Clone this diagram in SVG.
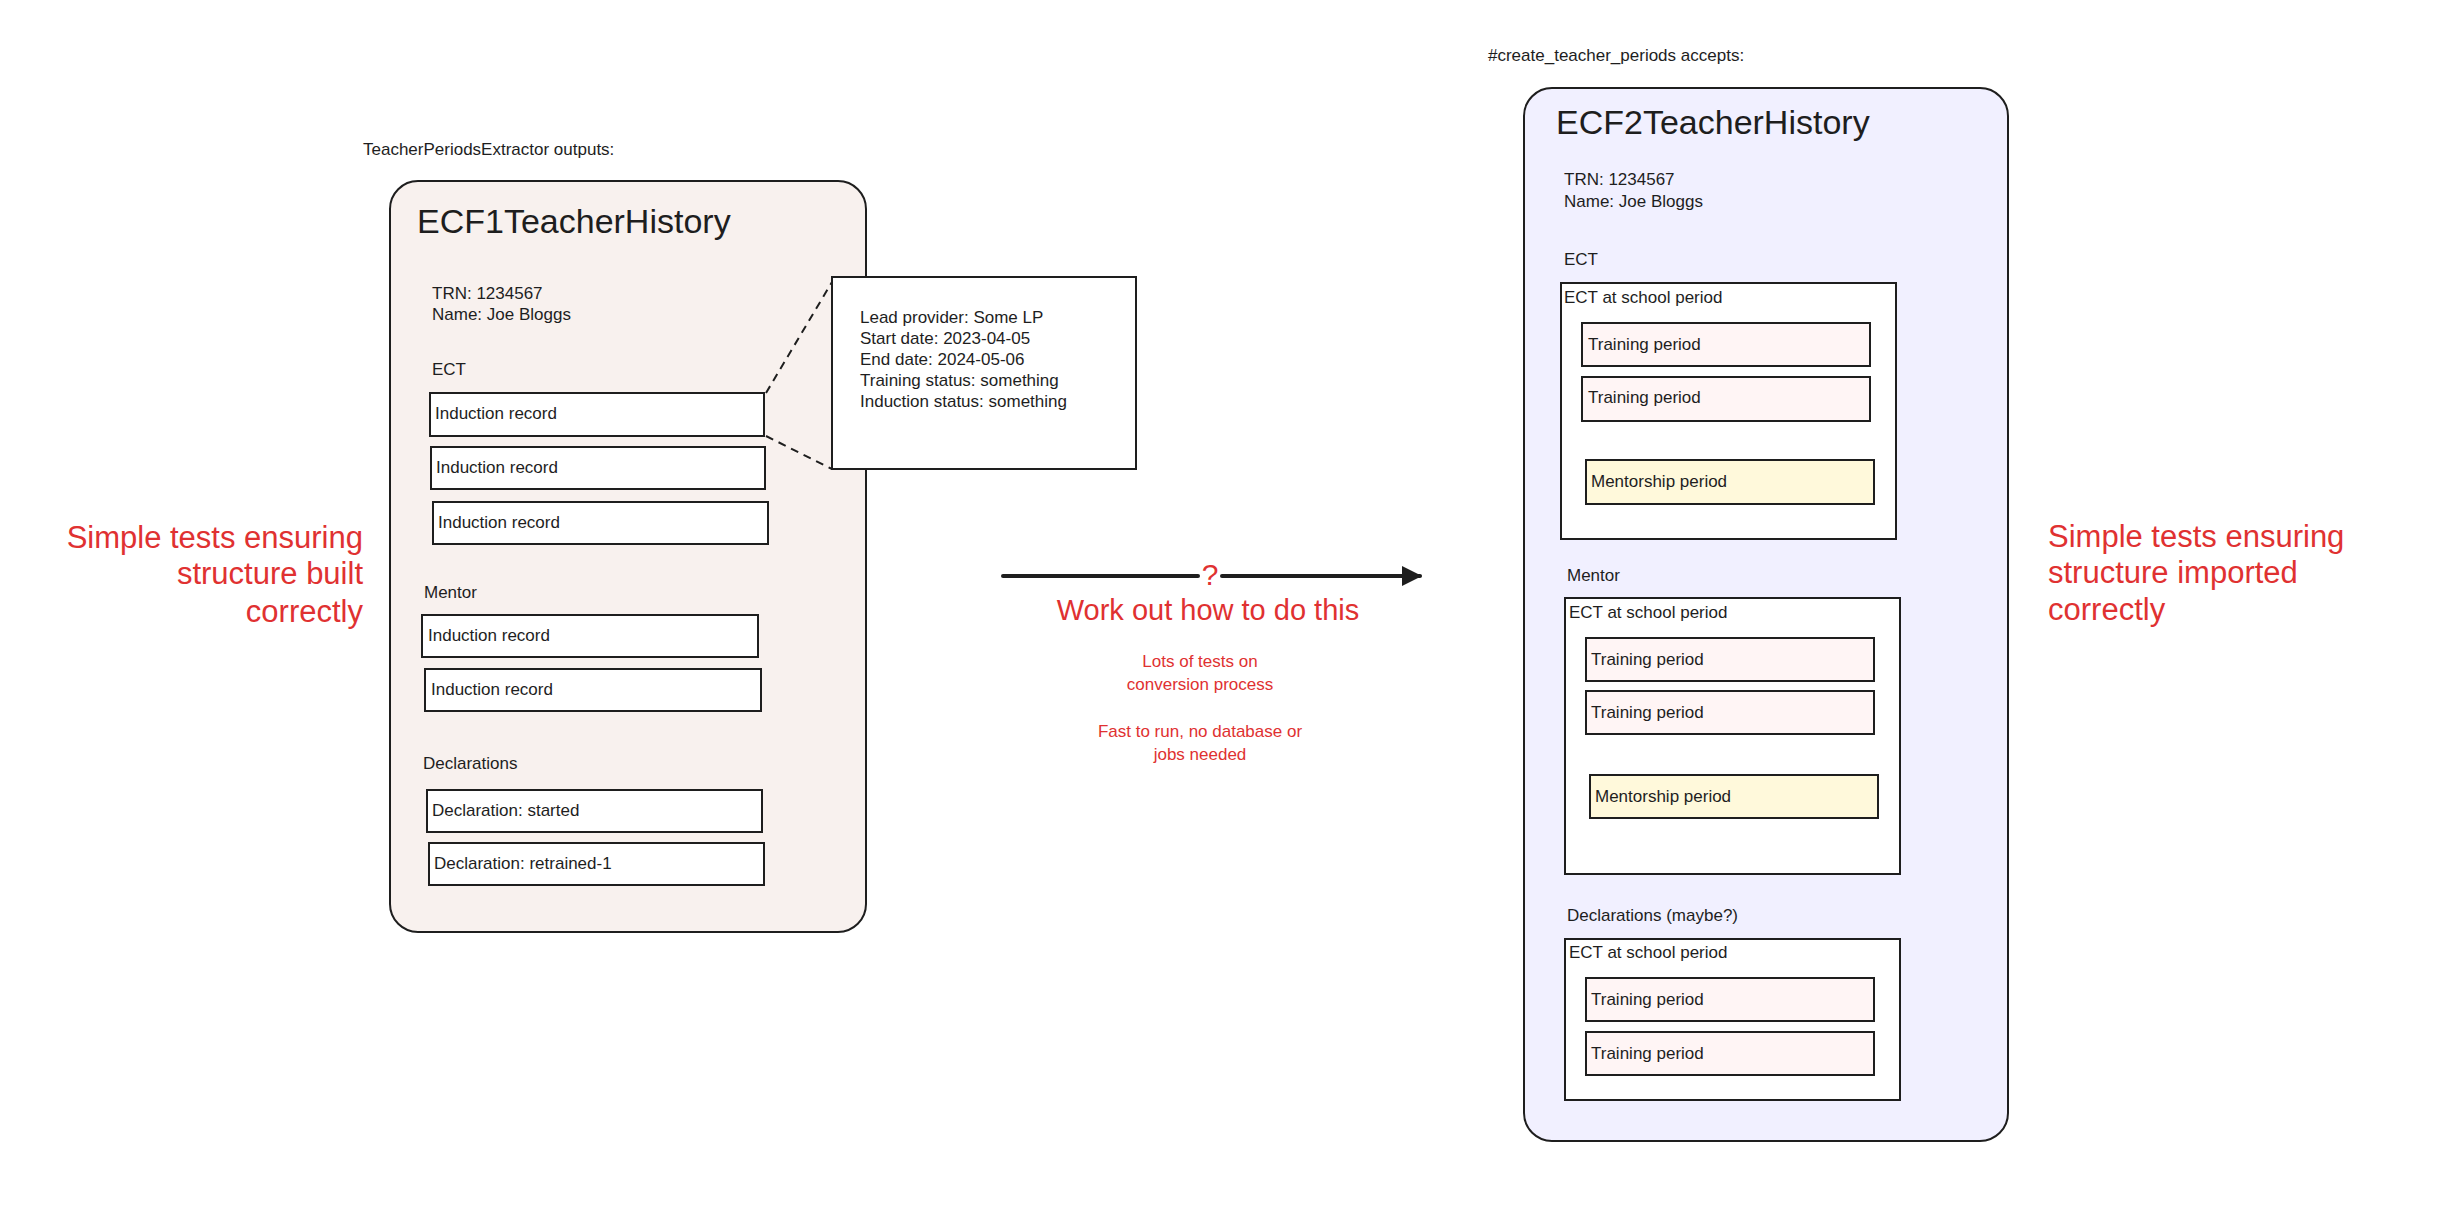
<svg xmlns="http://www.w3.org/2000/svg" width="2439" height="1209" viewBox="0 0 2439 1209">
<defs>
<style>
text{font-family:"Liberation Sans",Arial,sans-serif;fill:#1e1e1e}
.s{font-size:17px}
.t{font-size:34px}
.r{fill:#e03131}
.box{fill:#fff;stroke:#1e1e1e;stroke-width:2}
.tp{fill:#fff5f5;stroke:#1e1e1e;stroke-width:2}
.mp{fill:#fff9db;stroke:#1e1e1e;stroke-width:2}
.big{stroke:#1e1e1e;stroke-width:2}
</style>
<marker id="ah" viewBox="0 0 10 10" refX="9" refY="5" markerWidth="5" markerHeight="5" orient="auto"><path d="M0,0 L10,5 L0,10 z" fill="#1e1e1e"/></marker>
</defs>
<rect width="2439" height="1209" fill="#fff"/>

<g id="ecf1">
<text class="s" x="363" y="155">TeacherPeriodsExtractor outputs:</text>
<rect class="big" x="390" y="181" width="476" height="751" rx="28" fill="#f8f1ee"/>
<text class="t" x="417" y="233">ECF1TeacherHistory</text>
<text class="s" x="432" y="299">TRN: 1234567</text>
<text class="s" x="432" y="320">Name: Joe Bloggs</text>
<text class="s" x="432" y="375">ECT</text>
<g id="ir1"><rect class="box" x="430" y="393" width="334" height="43"/><text class="s" x="435" y="419">Induction record</text></g>
<g id="ir2"><rect class="box" x="431" y="447" width="334" height="42"/><text class="s" x="436" y="473">Induction record</text></g>
<g id="ir3"><rect class="box" x="433" y="502" width="335" height="42"/><text class="s" x="438" y="528">Induction record</text></g>
<text class="s" x="424" y="598">Mentor</text>
<g id="ir4"><rect class="box" x="422" y="615" width="336" height="42"/><text class="s" x="428" y="641">Induction record</text></g>
<g id="ir5"><rect class="box" x="425" y="669" width="336" height="42"/><text class="s" x="431" y="695">Induction record</text></g>
<text class="s" x="423" y="769">Declarations</text>
<g id="d1"><rect class="box" x="427" y="790" width="335" height="42"/><text class="s" x="432" y="816">Declaration: started</text></g>
<g id="d2"><rect class="box" x="429" y="843" width="335" height="42"/><text class="s" x="434" y="869">Declaration: retrained-1</text></g>
</g>

<g id="popup">
<rect class="box" x="832" y="277" width="304" height="192"/>
<text class="s" x="860" y="323">Lead provider: Some LP</text>
<text class="s" x="860" y="344">Start date: 2023-04-05</text>
<text class="s" x="860" y="365">End date: 2024-05-06</text>
<text class="s" x="860" y="386">Training status: something</text>
<text class="s" x="860" y="407">Induction status: something</text>
</g>

<g id="ecf2">
<text class="s" x="1488" y="61">#create_teacher_periods accepts:</text>
<rect class="big" x="1524" y="88" width="484" height="1053" rx="28" fill="#f1f0ff"/>
<text class="t" x="1556" y="134">ECF2TeacherHistory</text>
<text class="s" x="1564" y="185">TRN: 1234567</text>
<text class="s" x="1564" y="207">Name: Joe Bloggs</text>
<text class="s" x="1564" y="265">ECT</text>
<g id="ects1"><rect class="box" x="1561" y="283" width="335" height="256"/><text class="s" x="1564" y="303">ECT at school period</text>
<rect class="tp" x="1582" y="323" width="288" height="43"/><text class="s" x="1588" y="350">Training period</text>
<rect class="tp" x="1582" y="377" width="288" height="44"/><text class="s" x="1588" y="403">Training period</text>
<rect class="mp" x="1586" y="460" width="288" height="44"/><text class="s" x="1591" y="487">Mentorship period</text></g>
<text class="s" x="1567" y="581">Mentor</text>
<g id="ects2"><rect class="box" x="1565" y="598" width="335" height="276"/><text class="s" x="1569" y="618">ECT at school period</text>
<rect class="tp" x="1586" y="638" width="288" height="43"/><text class="s" x="1591" y="665">Training period</text>
<rect class="tp" x="1586" y="691" width="288" height="43"/><text class="s" x="1591" y="718">Training period</text>
<rect class="mp" x="1590" y="775" width="288" height="43"/><text class="s" x="1595" y="802">Mentorship period</text></g>
<text class="s" x="1567" y="921">Declarations (maybe?)</text>
<g id="ects3"><rect class="box" x="1565" y="939" width="335" height="161"/><text class="s" x="1569" y="958">ECT at school period</text>
<rect class="tp" x="1586" y="978" width="288" height="43"/><text class="s" x="1591" y="1005">Training period</text>
<rect class="tp" x="1586" y="1032" width="288" height="43"/><text class="s" x="1591" y="1059">Training period</text></g>
</g>

<g id="notes">
<text class="r" font-size="31" text-anchor="end" x="363" y="548">Simple tests ensuring</text>
<text class="r" font-size="31" text-anchor="end" x="363" y="584">structure built</text>
<text class="r" font-size="31" text-anchor="end" x="363" y="622">correctly</text>
<text class="r" font-size="31" x="2048" y="547">Simple tests ensuring</text>
<text class="r" font-size="31" x="2048" y="583">structure imported</text>
<text class="r" font-size="31" x="2048" y="620">correctly</text>
<text class="r" font-size="29" text-anchor="middle" x="1208" y="620">Work out how to do this</text>
<text class="r" font-size="17" text-anchor="middle" x="1200" y="667">Lots of tests on</text>
<text class="r" font-size="17" text-anchor="middle" x="1200" y="690">conversion process</text>
<text class="r" font-size="17" text-anchor="middle" x="1200" y="737">Fast to run, no database or</text>
<text class="r" font-size="17" text-anchor="middle" x="1200" y="760">jobs needed</text>
</g>

<g id="connectors" fill="none" stroke="#1e1e1e">
<path d="M766,393 L832,282" stroke-width="2" stroke-dasharray="8,6"/>
<path d="M766,436 L832,469" stroke-width="2" stroke-dasharray="8,6"/>
<path d="M1003,576 L1198,576" stroke-width="4" stroke-linecap="round"/>
<path d="M1222,576 L1420,576" stroke-width="4" stroke-linecap="round" marker-end="url(#ah)"/>
<text x="1210" y="585" font-size="30" text-anchor="middle" class="r" stroke="none">?</text>
</g>
</svg>
